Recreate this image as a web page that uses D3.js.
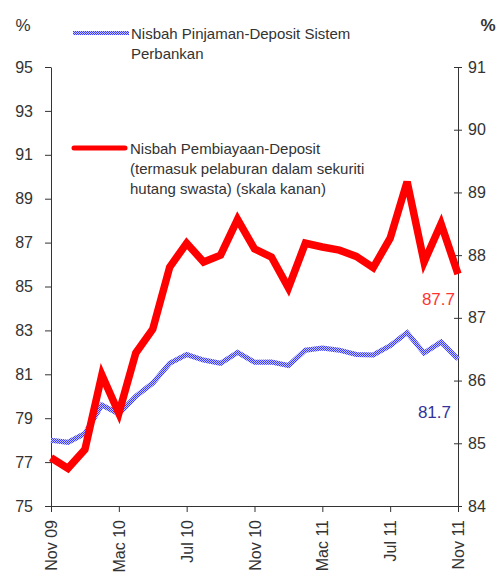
<!DOCTYPE html>
<html>
<head>
<meta charset="utf-8">
<script src="https://cdn.jsdelivr.net/npm/d3@7"></script>
<style>
  body { margin: 0; background: #fff; }
  svg { display: block; font-family: "Liberation Sans", Arial, sans-serif; }
  .tick text { font-size: 16px; fill: #333; }
  .domain, .tick line { stroke: #333; }
</style>
</head>
<body>
<div class="container"></div>
<script>
// monthly, Nov 09 .. Nov 11
const months = ["Nov 09","Dis 09","Jan 10","Feb 10","Mac 10","Apr 10","Mei 10","Jun 10","Jul 10","Ogo 10","Sep 10","Okt 10",
  "Nov 10","Dis 10","Jan 11","Feb 11","Mac 11","Apr 11","Mei 11","Jun 11","Jul 11","Ogo 11","Sep 11","Okt 11","Nov 11"];
const loanDeposit = [78.0, 77.9, 78.3, 79.6, 79.2, 80.0, 80.6, 81.5, 81.9, 81.65, 81.5, 82.0, 81.55,
  81.56, 81.4, 82.1, 82.2, 82.1, 81.9, 81.88, 82.3, 82.9, 81.97, 82.47, 81.7];
const financingDeposit = [84.77, 84.6, 84.9, 86.09, 85.48, 86.44, 86.82, 87.81, 88.19, 87.89, 88.0, 88.57, 88.1,
  87.97, 87.48, 88.19, 88.13, 88.08, 87.98, 87.8, 88.27, 89.17, 87.89, 88.5, 87.7];
const xTickLabels = ["Nov 09","Mac 10","Jul 10","Nov 10","Mac 11","Jul 11","Nov 11"];
const leftTicks = [75, 77, 79, 81, 83, 85, 87, 89, 91, 93, 95];
const rightTicks = [84, 85, 86, 87, 88, 89, 90, 91];

const w = 504, h = 585;
const m = {left: 51, right: 46, top: 67, bottom: 79};

const svg = d3.select('.container').append('svg')
  .attr('width', w).attr('height', h);

const x = d3.scalePoint().domain(months).range([m.left, w - m.right]);
const yL = d3.scaleLinear().domain([75, 95]).range([h - m.bottom, m.top]);
const yR = d3.scaleLinear().domain([84, 91]).range([h - m.bottom, m.top]);

// hatched look for the blue line
const pat = svg.append('defs').append('pattern')
  .attr('id', 'hatch').attr('patternUnits', 'userSpaceOnUse')
  .attr('width', 2).attr('height', 2);
pat.append('rect').attr('width', 2).attr('height', 2).attr('fill', '#c4c4ff');
pat.append('rect').attr('width', 1).attr('height', 1).attr('fill', '#3a3aff');
pat.append('rect').attr('x', 1).attr('y', 1).attr('width', 1).attr('height', 1).attr('fill', '#3a3aff');

// axes
svg.append('g')
  .attr('transform', `translate(${m.left},0)`)
  .call(d3.axisLeft(yL).tickValues(leftTicks).tickSize(6).tickPadding(12).tickSizeOuter(0));

svg.append('g')
  .attr('transform', `translate(${w - m.right},0)`)
  .call(d3.axisRight(yR).tickValues(rightTicks).tickFormat(d3.format('d'))
    .tickSize(4).tickPadding(6).tickSizeOuter(0))
  .call(g => g.selectAll('.tick line').attr('x1', -4));

svg.append('g')
  .attr('transform', `translate(0,${h - m.bottom})`)
  .call(d3.axisBottom(x).tickValues(xTickLabels).tickSize(6).tickSizeOuter(0))
  .call(g => g.selectAll('.tick text')
    .attr('transform', 'rotate(-90)')
    .attr('text-anchor', 'end')
    .attr('x', -14).attr('y', 0).attr('dy', '0.35em'));

// unit labels
svg.append('text').attr('x', 23).attr('y', 31).attr('text-anchor', 'middle')
  .attr('font-size', 17).attr('fill', '#333').text('%');
svg.append('text').attr('x', 488).attr('y', 31).attr('text-anchor', 'middle')
  .attr('font-size', 17).attr('font-weight', 'bold').attr('fill', '#333').text('%');

// lines
const lineL = d3.line().x((d, i) => x(months[i])).y(d => yL(d));
const lineR = d3.line().x((d, i) => x(months[i])).y(d => yR(d));

svg.append('path').datum(loanDeposit)
  .attr('d', lineL).attr('fill', 'none')
  .attr('stroke', 'url(#hatch)').attr('stroke-width', 5)
  .attr('stroke-linejoin', 'miter');

svg.append('path').datum(financingDeposit)
  .attr('d', lineR).attr('fill', 'none')
  .attr('stroke', '#ff0000').attr('stroke-width', 7.5)
  .attr('stroke-linejoin', 'miter');

// end labels
const last = months.length - 1;
svg.append('text').attr('x', x(months[last]) - 3).attr('y', yR(financingDeposit[last]) + 31)
  .attr('text-anchor', 'end').attr('font-size', 17).attr('fill', '#ff3333')
  .text(financingDeposit[last].toFixed(1));
svg.append('text').attr('x', x(months[last]) - 7).attr('y', yL(loanDeposit[last]) + 59)
  .attr('text-anchor', 'end').attr('font-size', 17).attr('fill', '#333399')
  .text(loanDeposit[last].toFixed(1));

// legend
const legend = svg.append('g').attr('font-size', 15).attr('fill', '#333');
legend.append('rect').attr('x', 73).attr('y', 31).attr('width', 56).attr('height', 4).attr('fill', 'url(#hatch)');
legend.append('text').attr('x', 131).attr('y', 39)
  .selectAll('tspan').data(["Nisbah Pinjaman-Deposit  Sistem", "Perbankan"]).join('tspan')
  .attr('x', 131).attr('dy', (d, i) => i ? 20 : 0).text(d => d);

legend.append('line').attr('x1', 74).attr('x2', 125).attr('y1', 148).attr('y2', 148)
  .attr('stroke', '#ff0000').attr('stroke-width', 5).attr('stroke-linecap', 'round');
legend.append('text').attr('x', 130).attr('y', 154)
  .selectAll('tspan').data(["Nisbah Pembiayaan-Deposit", "(termasuk pelaburan dalam sekuriti", "hutang swasta) (skala kanan)"]).join('tspan')
  .attr('x', 130).attr('dy', (d, i) => i ? 20 : 0).text(d => d);
</script>
</body>
</html>
